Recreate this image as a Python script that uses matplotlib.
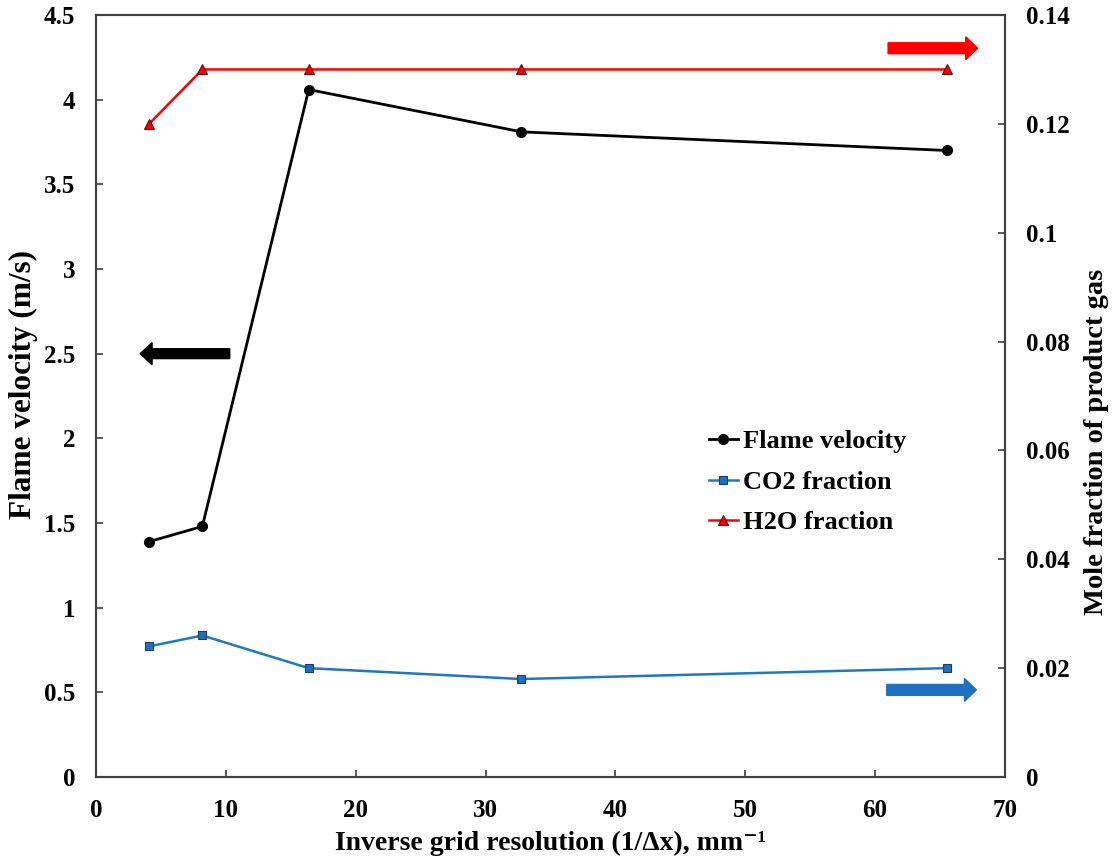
import matplotlib
matplotlib.use("Agg")
import matplotlib.pyplot as plt
from matplotlib.patches import FancyArrow

x_res = [4.096, 8.192, 16.384, 32.768, 65.536]
flame_velocity = [1.39, 1.48, 4.06, 3.81, 3.70]
co2_fraction = [0.024, 0.026, 0.020, 0.018, 0.020]
h2o_fraction = [0.120, 0.130, 0.130, 0.130, 0.130]

plt.rcParams['font.family'] = ['Liberation Serif', 'DejaVu Serif']
plt.rcParams['font.weight'] = 'bold'

fig = plt.figure(figsize=(11.16, 8.64), dpi=100)
ax = fig.add_axes([0.086, 0.1007, 0.8145, 0.8819])
ax2 = ax.twinx()

spine_c = '#404040'
for a in (ax, ax2):
    for s in a.spines.values():
        s.set_color(spine_c)
        s.set_linewidth(1.5)

l1, = ax.plot(x_res, flame_velocity, color='black', marker='o', markersize=7, lw=2, label='Flame velocity')
l2, = ax2.plot(x_res, co2_fraction, color='#1f77c4', marker='s', markersize=5.5, lw=1.8,
               markerfacecolor='#1f6fc0', markeredgecolor='#1a3d6b', markeredgewidth=0.8, label='CO2 fraction')
l3, = ax2.plot(x_res, h2o_fraction, color='#ff0000', marker='^', markersize=6.5, lw=1.8,
               markerfacecolor='#ff0000', markeredgecolor='#5a1010', markeredgewidth=0.8, label='H2O fraction')

ax.set_xlim(0, 70)
ax.set_ylim(0, 4.5)
ax2.set_ylim(0, 0.14)
ax.set_xticks(range(0, 71, 10))
ax.set_yticks([0, 0.5, 1, 1.5, 2, 2.5, 3, 3.5, 4, 4.5])
ax.set_yticklabels(['0', '0.5', '1', '1.5', '2', '2.5', '3', '3.5', '4', '4.5'])
ax2.set_yticks([0, 0.02, 0.04, 0.06, 0.08, 0.1, 0.12, 0.14])
ax2.set_yticklabels(['0', '0.02', '0.04', '0.06', '0.08', '0.1', '0.12', '0.14'])

for a in (ax, ax2):
    a.tick_params(direction='in', length=5, width=1.2, color=spine_c, labelsize=18, pad=15)
ax.tick_params(axis='x', pad=16)

ax.set_xlabel('Inverse grid resolution (1/Δx), mm\u207b\u00b9', fontsize=20, fontweight='bold', labelpad=6)
ax.set_ylabel('Flame velocity (m/s)', fontsize=22.5, fontweight='bold', labelpad=4)
ax.yaxis.label.set_y(0.515)
ax2.set_ylabel('Mole fraction of product gas', fontsize=20.5, fontweight='bold', labelpad=10)
ax2.yaxis.label.set_y(0.44)

leg = ax.legend(handles=[l1, l2, l3], loc='upper left', bbox_to_anchor=(0.648, 0.487),
                frameon=False, handlelength=1.1, handletextpad=0.2, labelspacing=0.65,
                prop={'weight': 'bold', 'size': 19})

# direction arrows
ax.add_patch(FancyArrow(10.3, 2.5, -6.9, 0, width=0.058, head_width=0.13, head_length=0.92,
                        length_includes_head=True, color='black', transform=ax.transData))
ax2.add_patch(FancyArrow(61.0, 0.1339, 6.9, 0, width=0.002, head_width=0.0042, head_length=0.92,
                         length_includes_head=True, color='#ff0000', transform=ax2.transData))
ax2.add_patch(FancyArrow(60.9, 0.0160, 6.9, 0, width=0.002, head_width=0.0042, head_length=0.92,
                         length_includes_head=True, color='#1f6fc0', transform=ax2.transData))

fig.savefig('out.png', dpi=100)
